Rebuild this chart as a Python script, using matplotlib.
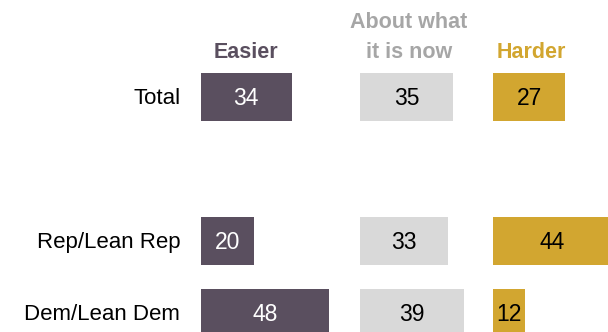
import matplotlib.pyplot as plt

# answer columns and rows
columns = ["Easier", "About what\nit is now", "Harder"]
groups = ["Total", "Rep/Lean Rep", "Dem/Lean Dem"]
easier = [34, 20, 48]
about_same = [35, 33, 39]
harder = [27, 44, 12]

plt.rcParams['font.family'] = ['Liberation Sans', 'DejaVu Sans']

col_colors = ["#5a4f5f", "#d9d9d9", "#d2a630"]
head_colors = ["#5a4f5f", "#a6a6a6", "#d2a630"]
txt_colors = ["white", "black", "black"]
col_left = [75.4, 135.1, 185.1]      # where each column of bars starts
head_x = [92.2, 153.5, 199.5]
row_y = [0, 2, 3]                    # blank row between total and parties

fig = plt.figure(figsize=(6.08, 3.32), dpi=100)
ax = fig.add_axes([0, 0, 1, 1])
ax.set_xlim(0, 608 / 2.665)
ax.set_ylim((332 - 97.3) / 72, -97.3 / 72)
ax.axis('off')

series = [easier, about_same, harder]
for c, vals in enumerate(series):
    ax.barh(row_y, vals, left=col_left[c], height=0.67,
            color=col_colors[c], edgecolor='none')
    for y, v in zip(row_y, vals):
        ax.text(col_left[c] + v / 2, y + 0.02, str(v), ha='center', va='center',
                fontsize=16.5, color=txt_colors[c])
    ax.text(head_x[c], -0.54, columns[c], ha='center', va='baseline',
            fontsize=15.5, fontweight='bold', color=head_colors[c],
            linespacing=1.6)

for y, g in zip(row_y, groups):
    ax.text(67.6, y + 0.02, g, ha='right', va='center', fontsize=16, color='black')

fig.savefig('out.png', dpi=100)
